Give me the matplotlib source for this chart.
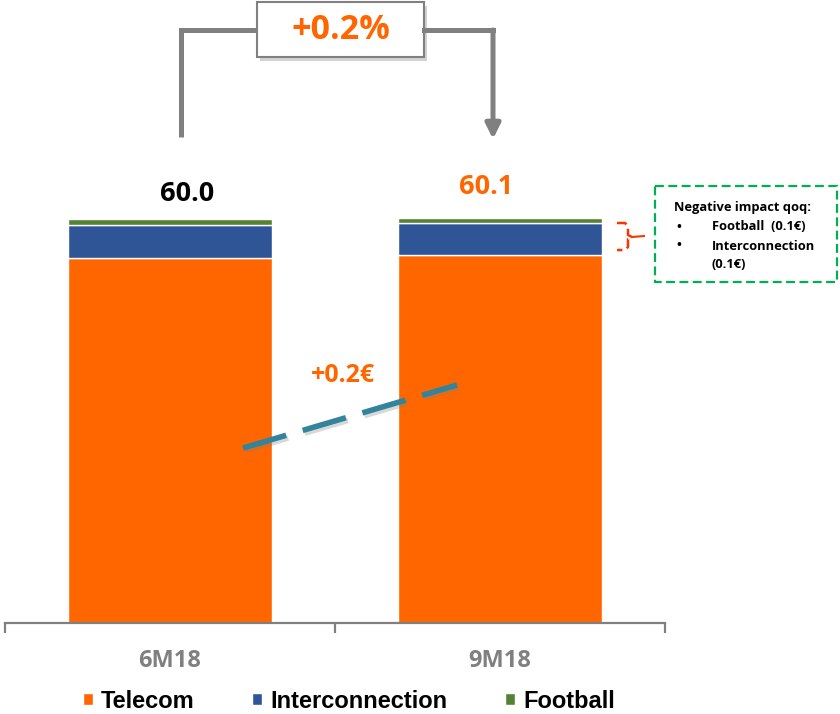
import matplotlib

matplotlib.use("Agg")
import matplotlib.pyplot as plt
import matplotlib.patheffects as pe
from matplotlib.patches import Rectangle
import numpy as np

# data (EUR, stacked)
PERIODS = ["6M18", "9M18"]
TELECOM = [54.2, 54.7]
INTERCONNECTION = [4.9, 4.7]
FOOTBALL = [0.9, 0.7]
SERIES_NAMES = ["Telecom", "Interconnection", "Football"]
TOTAL_COLORS = ["black", "#FF6600"]
GROWTH_PCT = "+0.2%"
GROWTH_EUR = "+0.2€"
NOTE_LINES = ["Negative impact qoq:", "Football  (0.1€)", "Interconnection", "(0.1€)"]

ORANGE = "#FF6600"
BLUE = "#2F5597"
GREEN = "#548235"
GREY = "#808080"
TEAL = "#31849B"
TEXT_FONT = "Open Sans"
LEGEND_FONT = "Liberation Sans"

W, H = 840, 714
PX_PER_UNIT = 404 / 60.0

fig = plt.figure(figsize=(W / 100, H / 100), dpi=100)
ax = fig.add_axes([5 / W, (H - 623) / H, 660 / W, 623 / H])

x = np.arange(len(PERIODS))
tel = np.array(TELECOM)
inter = np.array(INTERCONNECTION)
foot = np.array(FOOTBALL)
bar_kw = dict(width=0.62, edgecolor="white", linewidth=1.0)
b1 = ax.bar(x, tel, color=ORANGE, label=SERIES_NAMES[0], **bar_kw)
b2 = ax.bar(x, inter, bottom=tel, color=BLUE, label=SERIES_NAMES[1], **bar_kw)
b3 = ax.bar(x, foot, bottom=tel + inter, color=GREEN, label=SERIES_NAMES[2], **bar_kw)

totals = tel + inter + foot
label_offsets = [(17, 25), (-14, 31)]  # px offsets of the total labels
for i, t in enumerate(totals):
    ax.annotate(f"{t:.1f}", xy=(x[i], t), xytext=label_offsets[i],
                textcoords="offset pixels", ha="center", va="center",
                fontsize=19.5, fontweight="bold", family=TEXT_FONT,
                color=TOTAL_COLORS[i])

ax.set_xlim(-0.5, len(PERIODS) - 0.5)
ax.set_ylim(0, 623 / PX_PER_UNIT)
for s in ("top", "right", "left"):
    ax.spines[s].set_visible(False)
ax.spines["bottom"].set_color(GREY)
ax.spines["bottom"].set_linewidth(1.6)
ax.set_yticks([])
ax.set_xticks(np.arange(-0.5, len(PERIODS)))
ax.set_xticklabels([])
ax.tick_params(axis="x", which="major", length=7, width=1.6, color=GREY)
ax.set_xticks(x, minor=True)
ax.set_xticklabels(PERIODS, minor=True, fontsize=17, fontweight="bold",
                   family=TEXT_FONT, color=GREY)
ax.tick_params(axis="x", which="minor", length=0, pad=19)

fig.legend(handles=[b1, b2, b3], loc="center",
           bbox_to_anchor=(349 / W, 1 - 701 / H), ncol=3, frameon=False,
           handlelength=0.42, handleheight=0.45, handletextpad=0.34,
           columnspacing=2.45, borderaxespad=0,
           prop=dict(family=LEGEND_FONT, weight="bold", size=17))

# overlay in pixel coordinates for the callouts
ov = fig.add_axes([0, 0, 1, 1])
ov.set_xlim(0, W)
ov.set_ylim(H, 0)
ov.axis("off")

# growth bracket on top
ov.plot([181, 181, 257], [137, 30, 30], color=GREY, lw=3.6,
        solid_joinstyle="miter", solid_capstyle="butt")
ov.plot([424, 493], [30, 30], color=GREY, lw=3.6, solid_capstyle="projecting")
ov.annotate("", xy=(493, 139), xytext=(493, 30),
            arrowprops=dict(arrowstyle="-|>", lw=3.6, color=GREY,
                            mutation_scale=22, shrinkA=0, shrinkB=0))
box = Rectangle((257, 2), 167, 55, fc="white", ec=GREY, lw=1.5,
                path_effects=[pe.SimplePatchShadow(offset=(2, -3), alpha=0.25),
                              pe.Normal()])
ov.add_patch(box)
ov.text(341, 30, GROWTH_PCT, ha="center", va="center", fontsize=24.5,
        fontweight="bold", family=TEXT_FONT, color=ORANGE)

# dashed trend line between the bars
ov.plot([243, 457], [448, 385], color=TEAL, lw=4, dashes=(8.1, 3.1),
        solid_capstyle="butt",
        path_effects=[pe.SimpleLineShadow(offset=(1.5, -2), shadow_color="gray",
                                          alpha=0.3),
                      pe.Normal()])
ov.text(343, 375, GROWTH_EUR, ha="center", va="center", fontsize=18,
        fontweight="bold", family=TEXT_FONT, color=ORANGE)

# red brace next to the 9M18 interconnection segment
ov.plot([617, 625, 628, 628, 632, 628, 628, 625, 617],
        [223, 223, 226, 235, 237, 239, 247, 250, 250],
        color="#FF3300", lw=1.8, ls=(0, (4, 2)))
ov.plot([632, 644], [237, 236], color="#FF3300", lw=1.5)

# note box
ov.add_patch(Rectangle((655, 186), 182, 96, fc="none", ec="#00B050", lw=1.6,
                       ls=(0, (4, 2))))
note_kw = dict(ha="left", va="center", fontsize=9.3, fontweight="bold",
               family=TEXT_FONT)
ov.text(674, 207, NOTE_LINES[0], **note_kw)
for yy, line, bullet in [(227, NOTE_LINES[1], True), (246, NOTE_LINES[2], True),
                         (264, NOTE_LINES[3], False)]:
    if bullet:
        ov.text(676, yy, "•", **note_kw)
    ov.text(712, yy, line, **note_kw)

fig.savefig("out.png", dpi=100)
